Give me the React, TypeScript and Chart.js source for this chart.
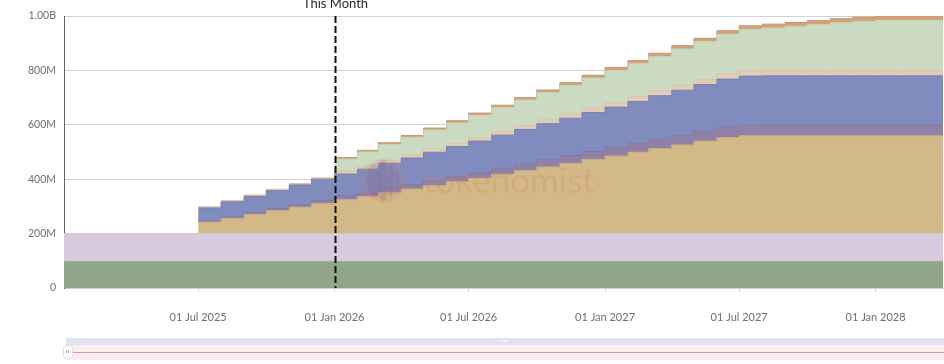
import React, { useEffect, useRef } from "react";
import { Chart, registerables } from "chart.js";

Chart.register(...registerables);

// ---- data (values in millions of tokens) ----
const months = [
  "2025-01-01", "2025-02-01", "2025-03-01", "2025-04-01", "2025-05-01", "2025-06-01",
  "2025-07-01", "2025-08-01", "2025-09-01", "2025-10-01", "2025-11-01", "2025-12-01",
  "2026-01-01", "2026-02-01", "2026-03-01", "2026-04-01", "2026-05-01", "2026-06-01",
  "2026-07-01", "2026-08-01", "2026-09-01", "2026-10-01", "2026-11-01", "2026-12-01",
  "2027-01-01", "2027-02-01", "2027-03-01", "2027-04-01", "2027-05-01", "2027-06-01",
  "2027-07-01", "2027-08-01", "2027-09-01", "2027-10-01", "2027-11-01", "2027-12-01",
  "2028-01-01", "2028-02-01", "2028-03-01", "2028-04-01",
];

const baseGreen = [
  100, 100, 100, 100, 100, 100, 100, 100, 100, 100, 100, 100,
  100, 100, 100, 100, 100, 100, 100, 100, 100, 100, 100, 100,
  100, 100, 100, 100, 100, 100, 100, 100, 100, 100, 100, 100,
  100, 100, 100, 100,
];
const lilac = [
  100, 100, 100, 100, 100, 100, 100, 100, 100, 100, 100, 100,
  100, 100, 100, 100, 100, 100, 100, 100, 100, 100, 100, 100,
  100, 100, 100, 100, 100, 100, 100, 100, 100, 100, 100, 100,
  100, 100, 100, 100,
];
const tan = [
  0, 0, 0, 0, 0, 0, 42, 56, 71, 84, 97, 111,
  124, 136, 150, 164, 176, 191, 203, 218, 231, 245, 258, 273,
  285, 299, 313, 326, 340, 353, 360, 360, 360, 360, 360, 360,
  360, 360, 360, 360,
];
const purple = [
  0, 0, 0, 0, 0, 0, 3, 5, 6, 8, 9, 11,
  14, 14, 16, 16, 18, 18, 21, 22, 24, 27, 29, 29,
  32, 33, 34, 35, 36, 38, 38, 39, 39, 39, 39, 39,
  39, 39, 39, 39,
];
const blue = [
  0, 0, 0, 0, 0, 0, 49, 56, 60, 66, 73, 78,
  81, 87, 93, 98, 105, 111, 116, 122, 128, 132, 137, 143,
  148, 154, 160, 166, 172, 177, 181, 181, 181, 181, 181, 181,
  181, 181, 181, 181,
];
const beige = [
  0, 0, 0, 0, 0, 0, 5, 5, 5, 5, 5, 5,
  10, 10, 10, 11, 11, 12, 12, 13, 13, 14, 15, 16,
  16, 17, 17, 18, 18, 19, 19, 19, 19, 19, 19, 19,
  19, 19, 19, 19,
];
const lightGreen = [
  0, 0, 0, 0, 0, 0, 0, 0, 0, 0, 0, 0,
  45, 53, 58, 65, 71, 75, 83, 89, 95, 101, 106, 111,
  119, 122, 127, 134, 140, 146, 153, 157, 163, 169, 176, 181,
  185, 185, 185, 185,
];
const orange = [
  0, 0, 0, 0, 0, 0, 0, 0, 0, 0, 0, 0,
  6, 6, 7, 7, 7, 8, 8, 8, 9, 9, 10, 10,
  11, 11, 12, 12, 12, 13, 13, 14, 14, 15, 15, 16,
  16, 16, 16, 16,
];

const tickDates = ["2025-07-01", "2026-01-01", "2026-07-01", "2027-01-01", "2027-07-01", "2028-01-01"];
const tickLabels = ["01 Jul 2025", "01 Jan 2026", "01 Jul 2026", "01 Jan 2027", "01 Jul 2027", "01 Jan 2028"];
const yTickValues = [0, 200, 400, 600, 800, 1000];
const yTickLabels = ["0", "200M", "400M", "600M", "800M", "1.00B"];
const thisMonthDate = "2026-01-01";
const thisMonthLabel = "This Month";
const rangeStart = "2025-01-01";
const rangeEnd = "2028-04-01";
const watermark = "tokenomist";

function dayOf(s: string): number {
  const [y, m, d] = s.split("-").map(Number);
  return (Date.UTC(y, m - 1, d) - Date.UTC(2025, 0, 1)) / 86400000;
}

const seriesList = [
  { name: "Base", values: baseGreen, color: "#90a589", line: "rgba(205,205,205,0.8)" },
  { name: "Reserve", values: lilac, color: "#d9cbdf", line: "rgba(205,200,205,0.8)" },
  { name: "Ecosystem", values: tan, color: "#d2b987", line: "#c6ab7b" },
  { name: "Advisors", values: purple, color: "#9181a7", line: "#86769d" },
  { name: "Investors", values: blue, color: "#7f8cbd", line: "#7581b4" },
  { name: "Airdrop", values: beige, color: "#e4cdb5", line: "#dbc2a8" },
  { name: "Team", values: lightGreen, color: "#cbdbc2", line: "#c0d1b6" },
  { name: "Liquidity", values: orange, color: "#d4a27a", line: "#c9956d" },
];

const overlayPlugin = {
  id: "overlay",
  afterDatasetsDraw(chart: any) {
    const { ctx, chartArea } = chart;
    const w = chartArea.right - chartArea.left;
    const h = chartArea.bottom - chartArea.top;
    const lx = chartArea.left + w * 0.363;
    const ly = chartArea.top + h * 0.605;
    ctx.save();
    // logo
    ctx.fillStyle = "rgba(215,125,95,0.16)";
    ctx.beginPath();
    ctx.arc(lx, ly, 22, 0, Math.PI * 2);
    ctx.fill();
    ctx.fillStyle = "rgba(110,90,170,0.2)";
    const bars = [
      [-9, 7, 17],
      [0, 5, 21],
      [8, 3, 16],
      [14, 2, 11],
    ];
    for (const [dx, rx, ry] of bars) {
      ctx.beginPath();
      ctx.ellipse(lx + dx, ly, rx, ry, 0, 0, Math.PI * 2);
      ctx.fill();
    }
    // text
    ctx.fillStyle = "rgba(222,115,80,0.2)";
    ctx.font = "35px Lato";
    ctx.textBaseline = "alphabetic";
    ctx.textAlign = "left";
    ctx.fillText(watermark, lx + 40, ly + 12);
    ctx.restore();
  },
  afterDraw(chart: any) {
    const { ctx, chartArea, scales } = chart;
    const x = Math.round(scales.x.getPixelForValue(dayOf(thisMonthDate))) + 0.5;
    ctx.save();
    ctx.strokeStyle = "#111";
    ctx.lineWidth = 2;
    ctx.setLineDash([7, 3]);
    ctx.beginPath();
    ctx.moveTo(x, chartArea.top);
    ctx.lineTo(x, chartArea.bottom);
    ctx.stroke();
    ctx.setLineDash([]);
    ctx.fillStyle = "#2a2a2a";
    ctx.font = "13px Lato";
    ctx.textAlign = "center";
    ctx.textBaseline = "alphabetic";
    ctx.fillText(thisMonthLabel, x, 8);
    ctx.restore();
  },
};

export default function App() {
  const ref = useRef<HTMLCanvasElement | null>(null);

  useEffect(() => {
    if (!ref.current) return;
    const xs = months.map(dayOf);
    const datasets = seriesList.map((s, i) => ({
      label: s.name,
      data: s.values.map((v, j) => ({ x: xs[j], y: v })),
      backgroundColor: s.color,
      borderColor: s.line,
      borderWidth: 1,
      segment: {
        borderColor: (c: any) => (s.values[c.p0DataIndex] === 0 ? "transparent" : s.line),
      },
      fill: i === 0 ? "origin" : "-1",
      stepped: "before" as const,
      pointRadius: 0,
      pointHoverRadius: 0,
      tension: 0,
    }));

    const chart = new Chart(ref.current, {
      type: "line",
      data: { datasets },
      plugins: [overlayPlugin],
      options: {
        animation: false,
        responsive: true,
        maintainAspectRatio: false,
        devicePixelRatio: 1,
        layout: { padding: { top: 16, right: 1, left: 0, bottom: 0 } },
        plugins: {
          legend: { display: false },
          tooltip: { enabled: false },
        },
        scales: {
          x: {
            type: "linear",
            min: dayOf(rangeStart),
            max: dayOf(rangeEnd),
            grid: {
              drawOnChartArea: false,
              drawTicks: true,
              tickLength: 4,
              color: "#d6d6d6",
            },
            border: { color: "#d0d0d0", width: 1 },
            afterBuildTicks: (scale: any) => {
              scale.ticks = tickDates.map((d) => ({ value: dayOf(d) }));
            },
            afterFit: (scale: any) => {
              scale.height = 76;
            },
            ticks: {
              autoSkip: false,
              maxRotation: 0,
              padding: 19,
              color: "#6f6f6f",
              font: { family: "Lato", size: 11 },
              callback: (v: any) => {
                const idx = tickDates.findIndex((d) => dayOf(d) === v);
                return idx >= 0 ? tickLabels[idx] : "";
              },
            },
          },
          y: {
            type: "linear",
            stacked: true,
            min: 0,
            max: 1000,
            z: 1,
            grid: {
              color: "rgba(120,100,120,0.3)",
              drawTicks: false,
            },
            border: { color: "#5f5f6c", width: 1 },
            afterBuildTicks: (scale: any) => {
              scale.ticks = yTickValues.map((v) => ({ value: v }));
            },
            afterFit: (scale: any) => {
              scale.width = 64;
            },
            ticks: {
              padding: 8,
              color: "#6f6f6f",
              font: { family: "Lato", size: 10.5 },
              callback: (v: any) => {
                const idx = yTickValues.indexOf(v);
                return idx >= 0 ? yTickLabels[idx] : "";
              },
            },
          },
        },
      },
    });
    return () => chart.destroy();
  }, []);

  return (
    <div style={{ position: "absolute", left: 0, top: 0, width: 944, height: 364, background: "#fff", overflow: "hidden" }}>
      <canvas ref={ref} />
      <div style={{ position: "absolute", left: 66, top: 338, width: 878, height: 7, background: "#dfe4f3" }} />
      <div style={{ position: "absolute", left: 66, top: 345, width: 878, height: 15, background: "#fcedf1" }} />
      <div style={{ position: "absolute", left: 66, top: 352, width: 878, height: 1, background: "#c9a2ab" }} />
      <div style={{ position: "absolute", left: 502, top: 340, width: 1, height: 2, background: "#fff" }} />
      <div style={{ position: "absolute", left: 504, top: 340, width: 1, height: 2, background: "#fff" }} />
      <div style={{ position: "absolute", left: 506, top: 340, width: 1, height: 2, background: "#fff" }} />
      <div
        style={{
          position: "absolute",
          left: 63,
          top: 345,
          width: 8,
          height: 12,
          background: "#fff",
          border: "1px solid #e2e2e2",
          borderRadius: 3,
        }}
      >
        <div style={{ position: "absolute", left: 2, top: 4, width: 1, height: 3, background: "#aaa" }} />
        <div style={{ position: "absolute", left: 4, top: 4, width: 1, height: 3, background: "#aaa" }} />
      </div>
    </div>
  );
}
